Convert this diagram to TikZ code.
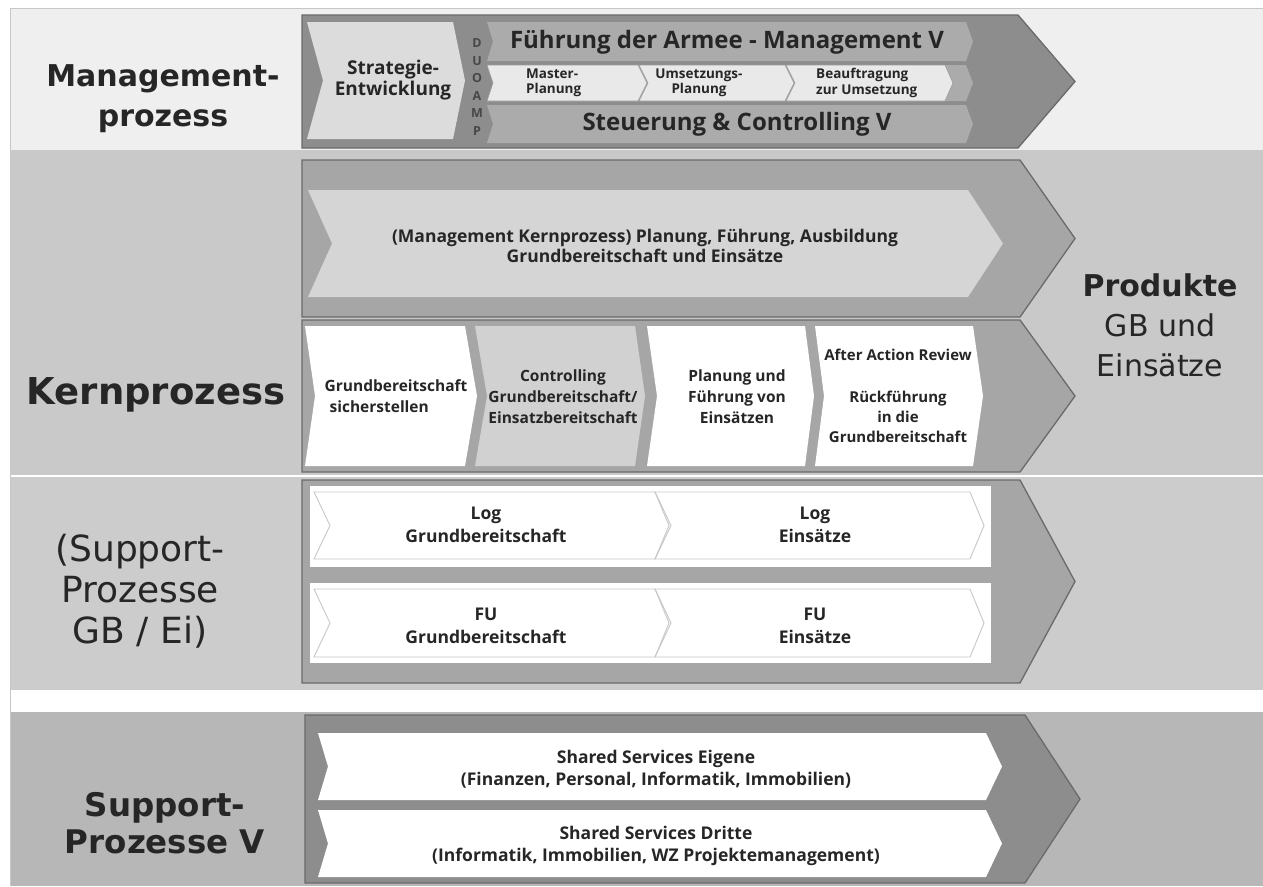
\documentclass[tikz,border=0pt]{standalone}
\usepackage{fontspec}
\setmainfont{Open Sans}
\newfontfamily\labelfont{DejaVu Sans}
\usetikzlibrary{positioning}

\definecolor{bandlight}{HTML}{EFEFEF}
\definecolor{bandkern}{HTML}{C9C9C9}
\definecolor{bandsup}{HTML}{CCCCCC}
\definecolor{bandsupv}{HTML}{B7B7B7}
\definecolor{chevdark}{HTML}{8D8D8D}
\definecolor{chevmid}{HTML}{A6A6A6}
\definecolor{chevedge}{HTML}{6A6A6A}
\definecolor{boxlight}{HTML}{DCDCDC}
\definecolor{boxpale}{HTML}{E9E9E9}
\definecolor{barmid}{HTML}{ABABAB}
\definecolor{txt}{HTML}{262626}

% chevron: [style] x1 y1 x2 y2 notch tip
\newcommand{\chev}[7][]{\path[#1] (#2,#3) -- (#4,#3) -- ({#4+#7},{(#3+#5)/2}) -- (#4,#5) -- (#2,#5) -- ({#2+#6},{(#3+#5)/2}) -- cycle;}

\tikzset{
  outer/.style={fill=chevdark, draw=chevedge, line width=1.3pt},
  outermid/.style={fill=chevmid, draw=chevedge, line width=1.3pt},
  lightbox/.style={fill=boxlight},
  palebox/.style={fill=boxpale, draw=black!40, line width=0.6pt},
  whitebox/.style={fill=white},
  bar/.style={fill=barmid},
  outline/.style={draw=black!22, line width=0.9pt},
  biglabel/.style={text=txt, align=center, font=\labelfont\bfseries\fontsize{30}{40}\selectfont},
  thinlabel/.style={text=txt, align=center, font=\labelfont\fontsize{36}{41}\selectfont},
  bartext/.style={text=txt, font=\bfseries\fontsize{24}{26}\selectfont},
  smalltext/.style={text=txt, font=\bfseries\fontsize{13.5}{15.5}\selectfont, inner sep=0pt},
  boxtext/.style={text=txt, align=center, font=\bfseries\fontsize{15.5}{21}\selectfont, inner sep=0pt},
  rowtext/.style={text=txt, align=center, font=\bfseries\fontsize{17.5}{23}\selectfont, inner sep=0pt},
  duo/.style={text=black!72, font=\bfseries\fontsize{12.5}{13}\selectfont, inner sep=0pt}
}

\begin{document}
\begin{tikzpicture}[x=1pt,y=-1pt]
\fill[white] (0,0) rectangle (1263,886);
\useasboundingbox (0,0) rectangle (1263,886);
% bands
\fill[bandlight] (10,8) rectangle (1263,150);
\fill[bandkern] (10,150) rectangle (1263,475);
\fill[bandsup] (10,477) rectangle (1263,690);
\fill[bandsupv] (10,712) rectangle (1263,886);
\draw[black!22, line width=1pt] (10,886) -- (10,8) -- (1263,8);

% Managementprozess
\chev[outer]{302}{15}{1018}{148}{0}{57}
\chev[lightbox]{307}{22}{453}{139}{16}{12}
\chev[bar]{487}{22}{966}{61}{6}{7}
\chev[bar]{487}{65}{966}{101}{6}{7}
\chev[bar]{487}{105}{966}{143}{6}{7}
\chev[palebox]{487}{65}{638}{101}{6}{9}
\chev[palebox]{639}{65}{785}{101}{9}{9}
\chev[palebox]{786}{65}{945}{101}{9}{8}
\node[boxtext, font=\bfseries\fontsize{19}{21}\selectfont] (strat) at (393,80) {Strategie-\\Entwicklung};
\foreach \ch [count=\i] in {D,U,O,A,M,P}
  \node[duo] (duo\i) at (477,{25.5+17.6*\i}) {\ch};
\node[bartext] (fuehrung) at (727,42) {Führung der Armee - Management V};
\node[smalltext, anchor=west, align=left] (master) at (526,83) {Master-\\Planung};
\node[smalltext, align=center] (umsetz) at (699,83) {Umsetzungs-\\Planung};
\node[smalltext, anchor=west, align=left] (auftrag) at (816,83) {Beauftragung\\zur Umsetzung};
\node[bartext] (steuerung) at (737,124) {Steuerung \& Controlling V};

% Kernprozess
\chev[outermid]{302}{160}{1020}{317}{0}{55}
\chev[fill=boxlight!97!black]{308}{190}{968}{297}{24}{35}
\node[rowtext, font=\bfseries\fontsize{17.5}{20}\selectfont] (mkern) at (645,246) {(Management Kernprozess) Planung, Führung, Ausbildung\\Grundbereitschaft und Einsätze};
\chev[outermid]{302}{320}{1020}{472}{0}{55}
\chev[whitebox]{305}{326}{465}{466}{10}{12}
\chev[fill=boxlight!95!black]{475}{326}{635}{466}{12}{10}
\chev[whitebox]{647}{326}{805}{466}{10}{9}
\chev[whitebox]{815}{326}{973}{466}{9}{10}
\node[boxtext, align=left] (gbs) at (396,396) {Grundbereitschaft\\\hspace{5pt}sicherstellen};
\node[boxtext] (ctrl) at (563,397) {Controlling\\Grundbereitschaft/\\Einsatzbereitschaft};
\node[boxtext] (plan) at (737,397) {Planung und\\Führung von\\Einsätzen};
\node[boxtext, font=\bfseries\fontsize{15}{20}\selectfont] (aar) at (898,396) {After Action Review\\[22pt]Rückführung\\in die\\Grundbereitschaft};

% Support-Prozesse GB / Ei
\chev[outermid]{302}{480}{1020}{683}{0}{55}
\fill[white] (310,486) rectangle (991,567);
\fill[white] (310,583) rectangle (991,663);
\chev[outline]{314}{492}{655}{559}{16}{14}
\chev[outline]{655}{492}{970}{559}{16}{14}
\chev[outline]{314}{589}{655}{657}{16}{14}
\chev[outline]{655}{589}{970}{657}{16}{14}
\node[rowtext] (loggb) at (486,525) {Log\\Grundbereitschaft};
\node[rowtext] (logei) at (815,525) {Log\\Einsätze};
\node[rowtext] (fugb) at (486,626) {FU\\Grundbereitschaft};
\node[rowtext] (fuei) at (815,626) {FU\\Einsätze};

% Support-Prozesse V
\chev[outer]{305}{715}{1025}{883}{0}{55}
\chev[whitebox]{318}{733}{986}{800}{10}{16}
\chev[whitebox]{318}{810}{986}{877}{10}{16}
\node[rowtext, font=\bfseries\fontsize{17.5}{22}\selectfont] (eigene) at (656,769) {Shared Services Eigene\\(Finanzen, Personal, Informatik, Immobilien)};
\node[rowtext, font=\bfseries\fontsize{17.5}{22}\selectfont] (dritte) at (656,846) {Shared Services Dritte\\(Informatik, Immobilien, WZ Projektemanagement)};

% labels
\node[biglabel] (lmgmt) at (163,99) {Management-\\prozess};
\node[biglabel, font=\labelfont\bfseries\fontsize{37}{40}\selectfont] (lkern) at (156,395) {Kernprozess};
\node[thinlabel] (lsupgb) at (140,591) {(Support-\\Prozesse\\GB / Ei)};
\node[biglabel, font=\labelfont\bfseries\fontsize{32.5}{37}\selectfont] (lsupv) at (165,823) {Support-\\Prozesse V};
\node[biglabel] (lprod) at (1160,325) {Produkte\\\mdseries GB und\\\mdseries Einsätze};
\end{tikzpicture}
\end{document}
